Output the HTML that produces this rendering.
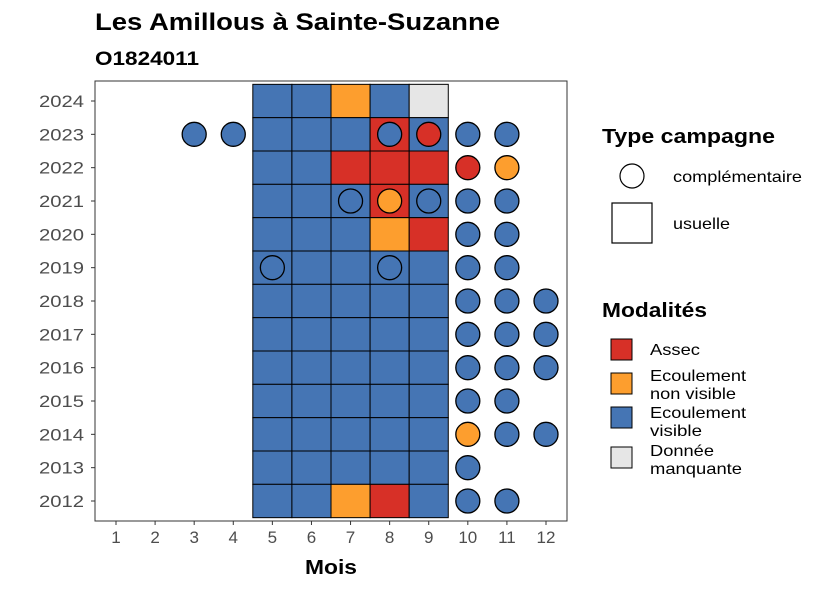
<!DOCTYPE html>
<html><head><meta charset="utf-8"><style>
body{margin:0;background:#fff;font-family:"Liberation Sans",sans-serif}
</style></head><body>
<svg id="c" width="826" height="590" xmlns="http://www.w3.org/2000/svg" font-family="Liberation Sans, sans-serif">
<rect width="826" height="590" fill="#fff"/>
<text x="95" y="30" font-size="24" font-weight="bold" textLength="405" lengthAdjust="spacingAndGlyphs">Les Amillous à Sainte-Suzanne</text>
<text x="95" y="65" font-size="19" font-weight="bold" textLength="104" lengthAdjust="spacingAndGlyphs">O1824011</text>
<g id="plot"></g>
<text x="331" y="574" font-size="20" font-weight="bold" text-anchor="middle" textLength="52" lengthAdjust="spacingAndGlyphs">Mois</text>
<g>
<text x="602" y="143" font-size="20" font-weight="bold" textLength="173" lengthAdjust="spacingAndGlyphs">Type campagne</text>
<circle cx="632" cy="176" r="12" fill="#fff" stroke="#000" stroke-width="1.2"/>
<text x="673" y="182" font-size="16" textLength="129" lengthAdjust="spacingAndGlyphs">complémentaire</text>
<rect x="612" y="203" width="40" height="40" fill="#fff" stroke="#000" stroke-width="1.2"/>
<text x="673" y="229" font-size="16" textLength="57" lengthAdjust="spacingAndGlyphs">usuelle</text>
</g>
<g>
<text x="602" y="317" font-size="20" font-weight="bold" textLength="105" lengthAdjust="spacingAndGlyphs">Modalités</text>
<rect x="611" y="339" width="21" height="21" fill="#d73027" stroke="#000"/>
<text x="650" y="355" font-size="16" textLength="50" lengthAdjust="spacingAndGlyphs">Assec</text>
<rect x="611" y="373" width="21" height="21" fill="#fd9e2e" stroke="#000"/>
<text x="650" y="381" font-size="16" textLength="96" lengthAdjust="spacingAndGlyphs">Ecoulement</text>
<text x="650" y="399" font-size="16" textLength="86" lengthAdjust="spacingAndGlyphs">non visible</text>
<rect x="611" y="407" width="21" height="21" fill="#4575b4" stroke="#000"/>
<text x="650" y="418" font-size="16" textLength="96" lengthAdjust="spacingAndGlyphs">Ecoulement</text>
<text x="650" y="436" font-size="16" textLength="52" lengthAdjust="spacingAndGlyphs">visible</text>
<rect x="611" y="447" width="21" height="21" fill="#e6e6e6" stroke="#000"/>
<text x="650" y="456" font-size="16" textLength="64" lengthAdjust="spacingAndGlyphs">Donnée</text>
<text x="650" y="474" font-size="16" textLength="92" lengthAdjust="spacingAndGlyphs">manquante</text>
</g>
</svg>
<script>
const months=[1,2,3,4,5,6,7,8,9,10,11,12];
const years=[2012,2013,2014,2015,2016,2017,2018,2019,2020,2021,2022,2023,2024];
// tiles: [year, month, modality]
const tiles=[
[2024,5,"V"],[2024,6,"V"],[2024,7,"N"],[2024,8,"V"],[2024,9,"M"],
[2023,5,"V"],[2023,6,"V"],[2023,7,"V"],[2023,8,"A"],[2023,9,"V"],
[2022,5,"V"],[2022,6,"V"],[2022,7,"A"],[2022,8,"A"],[2022,9,"A"],
[2021,5,"V"],[2021,6,"V"],[2021,7,"V"],[2021,8,"A"],[2021,9,"V"],
[2020,5,"V"],[2020,6,"V"],[2020,7,"V"],[2020,8,"N"],[2020,9,"A"],
[2019,5,"V"],[2019,6,"V"],[2019,7,"V"],[2019,8,"V"],[2019,9,"V"],
[2018,5,"V"],[2018,6,"V"],[2018,7,"V"],[2018,8,"V"],[2018,9,"V"],
[2017,5,"V"],[2017,6,"V"],[2017,7,"V"],[2017,8,"V"],[2017,9,"V"],
[2016,5,"V"],[2016,6,"V"],[2016,7,"V"],[2016,8,"V"],[2016,9,"V"],
[2015,5,"V"],[2015,6,"V"],[2015,7,"V"],[2015,8,"V"],[2015,9,"V"],
[2014,5,"V"],[2014,6,"V"],[2014,7,"V"],[2014,8,"V"],[2014,9,"V"],
[2013,5,"V"],[2013,6,"V"],[2013,7,"V"],[2013,8,"V"],[2013,9,"V"],
[2012,5,"V"],[2012,6,"V"],[2012,7,"N"],[2012,8,"A"],[2012,9,"V"]];
const points=[
[2023,3,"V"],[2023,4,"V"],[2023,8,"V"],[2023,9,"A"],[2023,10,"V"],[2023,11,"V"],
[2022,10,"A"],[2022,11,"N"],
[2021,7,"V"],[2021,8,"N"],[2021,9,"V"],[2021,10,"V"],[2021,11,"V"],
[2020,10,"V"],[2020,11,"V"],
[2019,5,"V"],[2019,8,"V"],[2019,10,"V"],[2019,11,"V"],
[2018,10,"V"],[2018,11,"V"],[2018,12,"V"],
[2017,10,"V"],[2017,11,"V"],[2017,12,"V"],
[2016,10,"V"],[2016,11,"V"],[2016,12,"V"],
[2015,10,"V"],[2015,11,"V"],
[2014,10,"N"],[2014,11,"V"],[2014,12,"V"],
[2013,10,"V"],
[2012,10,"V"],[2012,11,"V"]];
const colors={A:"#d73027",N:"#fd9e2e",V:"#4575b4",M:"#e6e6e6"};
const L=95,R=567,T=81,B=521;
const bw=(546-116)/11, bh=(501-101)/12;
const x=m=>116+(m-1)*bw;
const y=yr=>501-(yr-2012)*bh;
const NS="http://www.w3.org/2000/svg";
const g=document.getElementById("plot");
function mk(t,a){const e=document.createElementNS(NS,t);for(const k in a)e.setAttribute(k,a[k]);g.appendChild(e);return e;}
let e=mk("rect",{x:L,y:T,width:R-L,height:B-T,fill:"#fff"});


tiles.forEach(t=>{
 const r=mk("rect",{x:x(t[1])-bw/2,y:y(t[0])-bh/2,width:bw,height:bh,fill:colors[t[2]],stroke:"#000","stroke-width":1});
 
 
});
points.forEach(p=>{
 const c=mk("circle",{cx:x(p[1]),cy:y(p[0]),r:12,fill:colors[p[2]],stroke:"#000","stroke-width":1.3});
 
 
});
e=mk("rect",{x:L,y:T,width:R-L,height:B-T,fill:"none",stroke:"#333","stroke-width":1});


months.forEach(m=>{
 mk("line",{x1:x(m),x2:x(m),y1:B,y2:B+4,stroke:"#333"});
 const t=mk("text",{x:x(m),y:B+22,"font-size":17,fill:"#4d4d4d","text-anchor":"middle"});
 t.textContent=m;
 
 
});
years.forEach(yr=>{
 mk("line",{x1:L-4,x2:L,y1:y(yr),y2:y(yr),stroke:"#333"});
 const t=mk("text",{x:L-11,y:y(yr)+6,"font-size":17,fill:"#4d4d4d","text-anchor":"end",textLength:45,lengthAdjust:"spacingAndGlyphs"});
 t.textContent=yr;
 
 
});
</script>
</body></html>
